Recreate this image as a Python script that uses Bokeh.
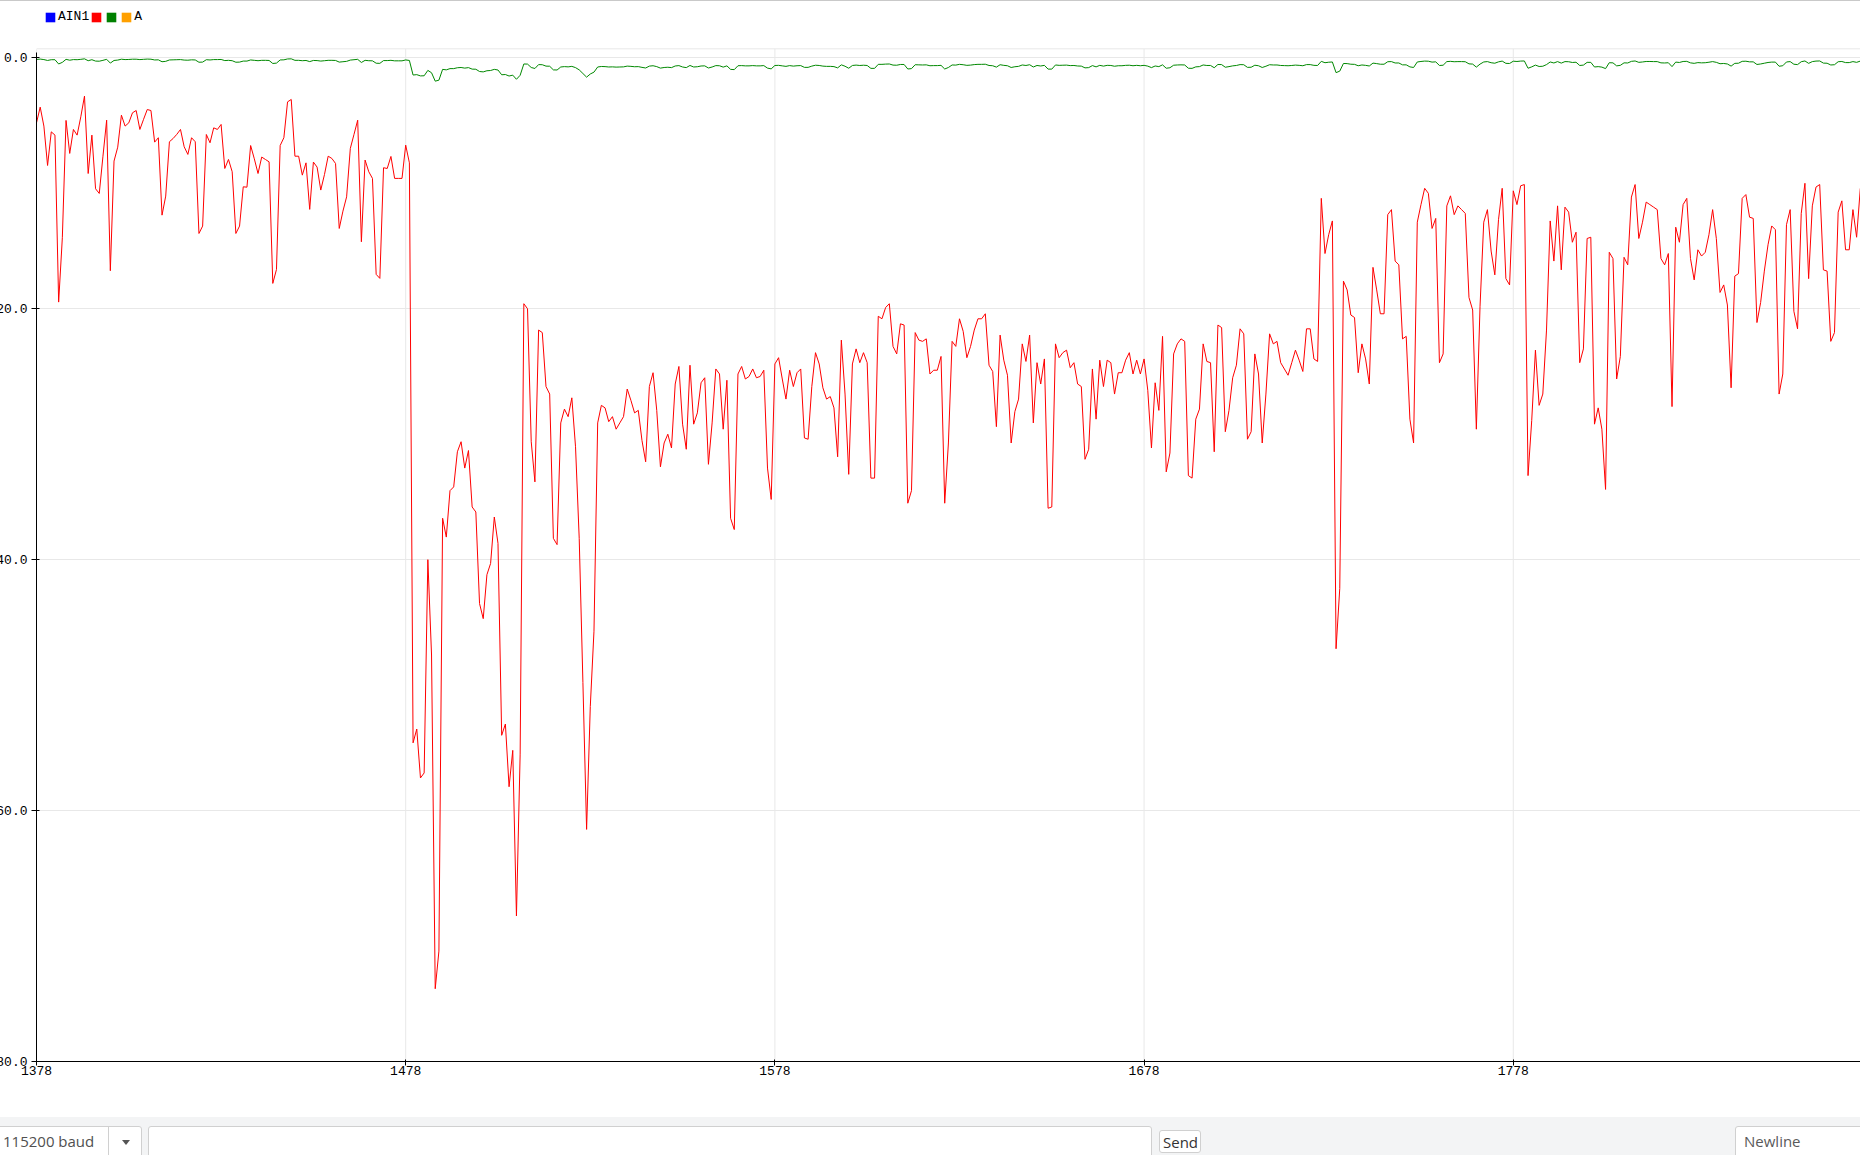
from bokeh.plotting import figure
from bokeh.models import (Range1d, FixedTicker, PrintfTickFormatter, Legend,
                          LegendItem, ColumnDataSource, Div, Span)
from bokeh.layouts import column
from bokeh.embed import file_html
from bokeh.resources import INLINE

# ---------------- data ----------------
X_START = 1378

red = [
    # 1378 - 1479
    -5.18, -3.93, -5.44, -8.58, -5.90, -6.16, -19.47, -14.34, -4.99, -7.62,
    -5.71, -6.16, -4.7, -3.05, -9.22, -6.16, -10.44, -10.81, -7.84, -4.97,
    -16.97, -8.23, -7.12, -4.57, -5.44, -5.18, -4.38, -4.20, -5.71, -4.9,
    -4.12, -4.20, -6.72, -6.37, -12.54, -11.02, -6.69, -6.43, -6.1, -5.71,
    -7.09, -7.70, -6.37, -6.69, -14.0, -13.41, -6.11, -6.77, -5.58, -5.71,
    -5.31, -8.82, -8.10, -9.08, -14.0, -13.41, -10.28, -10.31, -6.99, -8.05,
    -9.22, -7.91, -8.1, -8.29, -17.98, -16.87, -6.99, -6.37, -3.51, -3.32,
    -7.84, -7.84, -9.35, -8.37, -12.08, -8.31, -8.71, -10.54, -9.3, -7.84,
    -8.02, -8.42, -13.6, -12.22, -11.08, -7.22, -6.1, -4.97, -14.66, -8.15,
    -9.08, -9.61, -17.26, -17.58, -8.76, -8.82, -7.86, -9.61, -9.61, -9.61,
    -6.96, -8.37,
    # 1480 - 1542
    -54.6, -53.5, -57.4, -57.0, -40.0, -47.6, -74.2, -71.2, -36.7, -38.2,
    -34.5, -34.2, -31.4, -30.6, -32.7, -31.3, -35.8, -36.2, -43.5, -44.7,
    -41.2, -40.3, -36.6, -38.7, -54.0, -53.1, -58.1, -55.2, -68.4, -55.5,
    -19.6, -20.0, -30.6, -33.8, -21.7, -21.9, -26.2, -26.8, -38.3, -38.8,
    -29.1, -28.0, -28.6, -27.1, -31.0, -38.3, -49.8, -61.5, -51.7, -45.7,
    -29.1, -27.7, -27.9, -29.0, -28.6, -29.6, -29.1, -28.6, -26.4, -27.3,
    -28.3, -28.1, -30.5,
    # 1543 - 1623
    -32.2, -26.2, -25.1, -28.1, -32.6, -30.7, -30.0, -31.1, -26.0, -24.6,
    -29.2, -31.2, -24.5, -29.2, -28.3, -25.9, -25.5, -32.4, -29.1, -24.8,
    -25.2, -29.6, -25.7, -36.7, -37.6, -25.2, -24.6, -25.6, -25.4, -24.8,
    -25.5, -25.4, -24.9, -32.7, -35.2, -24.4, -23.9, -25.6, -27.2, -24.9,
    -26.2, -25.1, -24.8, -30.3, -30.4, -26.2, -23.5, -24.4, -26.3, -27.2,
    -27.0, -27.9, -31.8, -22.5, -26.8, -33.2, -24.4, -23.2, -24.3, -23.5,
    -24.3, -33.5, -33.5, -20.6, -20.8, -19.9, -19.6, -23.0, -23.6, -21.2,
    -21.3, -35.5, -34.5, -21.9, -22.5, -22.6, -22.4, -25.2, -24.9, -24.9,
    -23.8,
    # 1624 - 1705
    -35.5, -30.7, -22.6, -23.0, -20.8, -21.8, -23.9, -23.0, -21.7, -20.8,
    -20.8, -20.4, -24.5, -25.0, -29.4, -22.1, -24.1, -25.3, -30.7, -28.2,
    -27.2, -22.8, -24.2, -22.1, -29.1, -24.3, -26.0, -24.0, -35.9, -35.8,
    -22.8, -23.9, -23.5, -23.3, -24.7, -24.3, -26.0, -26.2, -32.0, -31.2,
    -24.8, -28.8, -24.1, -26.2, -24.1, -24.3, -26.8, -25.1, -25.1, -24.1,
    -23.5, -25.2, -24.1, -25.2, -24.0, -26.5, -31.1, -25.9, -28.1, -22.2,
    -33.0, -31.5, -23.6, -22.8, -22.4, -22.6, -33.3, -33.5, -28.8, -28.0,
    -22.8, -24.2, -24.3, -31.4, -21.3, -21.5, -29.8, -28.1, -25.5, -24.5,
    -21.6, -22.0,
    # 1706 - 1787
    -30.4, -29.8, -23.6, -25.2, -30.7, -26.8, -22.0, -22.8, -22.6, -24.3,
    -24.8, -25.3, -24.3, -23.3, -24.1, -25.0, -21.6, -21.6, -24.0, -24.2,
    -11.2, -15.6, -14.1, -13.0, -47.1, -42.3, -17.8, -18.5, -20.5, -20.7,
    -25.1, -22.8, -24.0, -26.0, -16.7, -18.5, -20.4, -20.4, -12.5, -12.1,
    -16.2, -16.5, -22.4, -22.2, -28.8, -30.7, -13.1, -11.7, -10.4, -10.8,
    -13.6, -12.8, -24.3, -23.6, -11.8, -11.0, -12.5, -11.8, -12.1, -12.4,
    -19.1, -20.1, -29.6, -19.8, -13.1, -12.1, -15.4, -17.3, -12.9, -10.4,
    -17.6, -18.1, -10.6, -11.7, -10.2, -10.1, -33.3, -28.9, -23.3, -27.7,
    -26.8, -21.7,
    # 1788 - 1872
    -13.0, -16.2, -11.8, -16.9, -11.9, -12.3, -14.7, -13.9, -24.3, -23.2,
    -14.4, -14.3, -29.2, -27.9, -29.6, -34.4, -15.5, -16.0, -25.6, -23.8,
    -15.9, -16.5, -11.1, -10.1, -14.4, -13.1, -11.5, -11.7, -11.9, -12.1,
    -16.0, -16.5, -15.6, -27.8, -13.5, -14.7, -11.7, -11.2, -16.0, -17.7,
    -15.3, -15.8, -15.5, -14.1, -12.1, -14.4, -18.7, -18.1, -19.7, -26.3,
    -17.4, -17.2, -11.2, -10.9, -12.7, -12.8, -21.1, -19.5, -17.0, -14.9,
    -13.4, -13.7, -26.8, -25.2, -13.3, -12.1, -20.2, -21.6, -12.4, -10.0,
    -17.6, -11.8, -10.3, -10.1, -16.9, -17.0, -22.6, -21.9, -12.3, -11.4,
    -15.3, -15.3, -12.1, -14.3, -10.4,
]

green = [
    # 1378 - 1479
    -0.13, -0.10, -0.14, -0.21, -0.15, -0.15, -0.49, -0.36, -0.12, -0.19,
    -0.14, -0.15, -0.12, -0.08, -0.23, -0.15, -0.26, -0.27, -0.20, -0.12,
    -0.42, -0.21, -0.18, -0.11, -0.14, -0.13, -0.11, -0.11, -0.14, -0.12,
    -0.10, -0.11, -0.17, -0.16, -0.31, -0.28, -0.17, -0.16, -0.15, -0.14,
    -0.18, -0.19, -0.16, -0.17, -0.35, -0.34, -0.15, -0.17, -0.14, -0.14,
    -0.13, -0.22, -0.20, -0.23, -0.35, -0.34, -0.26, -0.26, -0.17, -0.20,
    -0.23, -0.20, -0.20, -0.21, -0.45, -0.42, -0.17, -0.16, -0.09, -0.08,
    -0.20, -0.20, -0.23, -0.21, -0.30, -0.21, -0.22, -0.26, -0.23, -0.20,
    -0.20, -0.21, -0.34, -0.31, -0.28, -0.18, -0.15, -0.12, -0.37, -0.20,
    -0.23, -0.24, -0.43, -0.44, -0.22, -0.22, -0.20, -0.24, -0.24, -0.24,
    -0.17, -0.21,
    # 1480 - 1542
    -1.37, -1.34, -1.44, -1.43, -1.00, -1.19, -1.86, -1.78, -0.92, -0.96,
    -0.86, -0.86, -0.79, -0.77, -0.82, -0.78, -0.90, -0.91, -1.09, -1.12,
    -1.03, -1.01, -0.92, -0.97, -1.35, -1.33, -1.45, -1.38, -1.71, -1.39,
    -0.49, -0.50, -0.77, -0.85, -0.54, -0.55, -0.66, -0.67, -0.96, -0.97,
    -0.73, -0.70, -0.72, -0.68, -0.78, -0.96, -1.25, -1.54, -1.29, -1.14,
    -0.73, -0.69, -0.70, -0.73, -0.72, -0.74, -0.73, -0.72, -0.66, -0.68,
    -0.71, -0.70, -0.76,
    # 1543 - 1623
    -0.81, -0.66, -0.63, -0.70, -0.82, -0.77, -0.75, -0.78, -0.65, -0.62,
    -0.73, -0.78, -0.61, -0.73, -0.71, -0.65, -0.64, -0.81, -0.73, -0.62,
    -0.63, -0.74, -0.64, -0.92, -0.94, -0.63, -0.62, -0.64, -0.64, -0.62,
    -0.64, -0.64, -0.62, -0.82, -0.88, -0.61, -0.60, -0.64, -0.68, -0.62,
    -0.66, -0.63, -0.62, -0.76, -0.76, -0.66, -0.59, -0.61, -0.66, -0.68,
    -0.68, -0.70, -0.80, -0.56, -0.67, -0.83, -0.61, -0.58, -0.61, -0.59,
    -0.61, -0.84, -0.84, -0.52, -0.52, -0.50, -0.49, -0.58, -0.59, -0.53,
    -0.53, -0.89, -0.86, -0.55, -0.56, -0.57, -0.56, -0.63, -0.62, -0.62,
    -0.60,
    # 1624 - 1705
    -0.89, -0.77, -0.57, -0.58, -0.52, -0.55, -0.60, -0.58, -0.54, -0.52,
    -0.52, -0.51, -0.61, -0.63, -0.74, -0.55, -0.60, -0.63, -0.77, -0.71,
    -0.68, -0.57, -0.61, -0.55, -0.73, -0.61, -0.65, -0.60, -0.90, -0.90,
    -0.57, -0.60, -0.59, -0.58, -0.62, -0.61, -0.65, -0.66, -0.80, -0.78,
    -0.62, -0.72, -0.60, -0.66, -0.60, -0.61, -0.67, -0.63, -0.63, -0.60,
    -0.59, -0.63, -0.60, -0.63, -0.60, -0.66, -0.78, -0.65, -0.70, -0.56,
    -0.83, -0.79, -0.59, -0.57, -0.56, -0.57, -0.83, -0.84, -0.72, -0.70,
    -0.57, -0.61, -0.61, -0.79, -0.53, -0.54, -0.75, -0.70, -0.64, -0.61,
    -0.54, -0.55,
    # 1706 - 1787
    -0.76, -0.75, -0.59, -0.63, -0.77, -0.67, -0.55, -0.57, -0.57, -0.61,
    -0.62, -0.63, -0.61, -0.58, -0.60, -0.63, -0.54, -0.54, -0.60, -0.61,
    -0.28, -0.39, -0.35, -0.33, -1.18, -1.06, -0.45, -0.46, -0.51, -0.52,
    -0.63, -0.57, -0.60, -0.65, -0.42, -0.46, -0.51, -0.51, -0.31, -0.30,
    -0.41, -0.41, -0.56, -0.56, -0.72, -0.77, -0.33, -0.29, -0.26, -0.27,
    -0.34, -0.32, -0.61, -0.59, -0.30, -0.28, -0.31, -0.30, -0.30, -0.31,
    -0.48, -0.50, -0.74, -0.50, -0.33, -0.30, -0.39, -0.43, -0.32, -0.26,
    -0.44, -0.45, -0.27, -0.29, -0.26, -0.25, -0.83, -0.72, -0.58, -0.69,
    -0.67, -0.54,
    # 1788 - 1872
    -0.33, -0.41, -0.30, -0.42, -0.30, -0.31, -0.37, -0.35, -0.61, -0.58,
    -0.36, -0.36, -0.73, -0.70, -0.74, -0.86, -0.39, -0.40, -0.64, -0.60,
    -0.40, -0.41, -0.28, -0.25, -0.36, -0.33, -0.29, -0.29, -0.30, -0.30,
    -0.40, -0.41, -0.39, -0.70, -0.34, -0.37, -0.29, -0.28, -0.40, -0.44,
    -0.38, -0.40, -0.39, -0.35, -0.30, -0.36, -0.47, -0.45, -0.49, -0.66,
    -0.44, -0.43, -0.28, -0.27, -0.32, -0.32, -0.53, -0.49, -0.43, -0.37,
    -0.34, -0.34, -0.67, -0.63, -0.33, -0.30, -0.51, -0.54, -0.31, -0.25,
    -0.44, -0.30, -0.26, -0.25, -0.42, -0.43, -0.57, -0.55, -0.31, -0.29,
    -0.38, -0.38, -0.30, -0.36, -0.26,
]

x_ticks = [1378, 1478, 1578, 1678, 1778]
y_ticks = [-80, -60, -40, -20, 0]
x_view = (1378, 1872.05)
y_view = (-80, 4.49)        # upper part holds the legend strip
plot_top = 0.72             # top edge of the plotting area
y_axis_span = (-80, 0.4)

legend_labels = ["AIN1", "", "", "A"]
legend_colors = ["#0000ff", "#ff0000", "#008000", "#ffa000"]

# bottom control bar texts (serial monitor widgets)
baud_text = "115200 baud"
send_text = "Send"
newline_text = "Newline"

x = list(range(X_START, X_START + len(red)))

MONO = "Liberation Mono"
NAN = float("nan")
GRID = "#e8e8e8"

# ---------------- thin top border ----------------
top = Div(text="", width=1884, height=1, margin=0,
          styles={"background-color": "#c9c9c9", "overflow": "hidden"})

# ---------------- main plot ----------------
p = figure(frame_width=1824, frame_height=1060,
           x_range=Range1d(*x_view), y_range=Range1d(*y_view),
           output_backend="svg", toolbar_location=None,
           min_border_left=60, min_border_right=0,
           min_border_top=0, min_border_bottom=56)
p.outline_line_color = None
p.background_fill_color = "white"
p.border_fill_color = "white"

# plot-area grid: vertical lines limited to the plotting area, top edge line
p.xgrid.visible = False
p.segment(x0=x_ticks, x1=x_ticks, y0=[y_view[0]] * len(x_ticks),
          y1=[plot_top] * len(x_ticks), line_color=GRID, line_width=1)
p.add_layout(Span(location=plot_top, dimension="width", line_color=GRID,
                  line_width=1))
p.ygrid.ticker = FixedTicker(ticks=y_ticks)
p.ygrid.grid_line_color = GRID

src = ColumnDataSource(dict(x=x, red=red, green=green))
p.line("x", "red", source=src, line_color="#ff0000", line_width=1)
p.line("x", "green", source=src, line_color="#008800", line_width=1)

for ax in (p.xaxis[0], p.yaxis[0]):
    ax.axis_line_color = "black"
    ax.axis_line_width = 1
    ax.major_tick_line_color = "black"
    ax.minor_tick_line_color = None
    ax.major_label_text_font = MONO
    ax.major_label_text_font_size = "13px"
    ax.major_label_text_color = "black"

p.xaxis.ticker = FixedTicker(ticks=x_ticks, minor_ticks=[])
p.yaxis.ticker = FixedTicker(ticks=y_ticks, minor_ticks=[])
p.yaxis.formatter = PrintfTickFormatter(format="%.1f")
p.yaxis.bounds = y_axis_span
p.xaxis.major_tick_in = 2
p.xaxis.major_tick_out = 4
p.xaxis.major_label_standoff = 0
p.yaxis.major_tick_in = 3
p.yaxis.major_tick_out = 5
p.yaxis.major_label_standoff = 4

items = []
for lab, col in zip(legend_labels, legend_colors):
    r = p.quad(left=[NAN], right=[NAN], top=[NAN], bottom=[NAN],
               fill_color=col, line_color=None)
    items.append(LegendItem(label=lab, renderers=[r]))

legend = Legend(items=items, location="top_left", orientation="horizontal",
                glyph_width=12, glyph_height=12, label_standoff=2, spacing=1,
                padding=0, margin=8, border_line_color=None,
                background_fill_alpha=0, label_width=0, label_height=0,
                label_text_font=MONO, label_text_font_size="13px",
                label_text_color="black")
p.add_layout(legend)

# ---------------- bottom bar (HTML chrome) ----------------
def box(left, top_, width, height):
    return ("<div style='position:absolute;left:%gpx;top:%gpx;width:%gpx;"
            "height:%gpx;background:#fff;border:1px solid #d0d0d0;"
            "border-radius:3px;box-sizing:border-box'></div>"
            % (left, top_, width, height))

def label(left, top_, text, color):
    return ("<div style='position:absolute;left:%gpx;top:%gpx;"
            "font-family:\"Open Sans\";font-size:15px;line-height:15px;"
            "color:%s;white-space:nowrap'>%s</div>" % (left, top_, color, text))

bar_html = (
    "<div style='position:relative;width:1884px;height:38px;"
    "background:#f3f4f5;overflow:hidden'>"
    + box(20, 9, 146, 40)
    + "<div style='position:absolute;left:132px;top:9px;width:1px;"
      "height:30px;background:#d0d0d0'></div>"
    + "<div style='position:absolute;left:146px;top:23px;width:0;height:0;"
      "border-left:4px solid transparent;border-right:4px solid transparent;"
      "border-top:5px solid #555'></div>"
    + label(27, 17, baud_text, "#505050")
    + box(172, 9, 1004, 40)
    + box(1183, 13, 42, 23)
    + label(1187, 18, send_text, "#333333")
    + box(1759, 9, 140, 40)
    + label(1768, 17, newline_text, "#5a5a5a")
    + "</div>"
)
bar = Div(text=bar_html, width=1884, height=38, margin=0)

layout = column(top, p, bar, spacing=0, styles={"margin-left": "-24px"})

open("out.html", "w").write(file_html(layout, INLINE))
